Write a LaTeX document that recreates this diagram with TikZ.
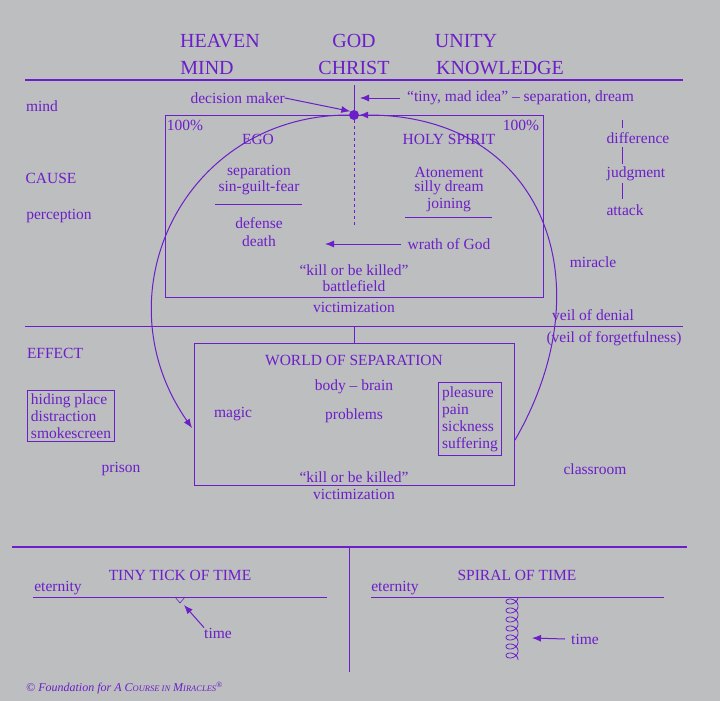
\documentclass[tikz,border=0pt]{standalone}
\usepackage{fontspec}
\setmainfont{Liberation Serif}
\usetikzlibrary{arrows.meta}
\definecolor{ink}{RGB}{108,30,200}
\definecolor{paper}{RGB}{188,190,192}
\begin{document}
\begin{tikzpicture}[x=1pt,y=1pt]
	\tikzset{txt/.style={text=ink, font=\fontsize{15.5}{17}\selectfont, inner sep=0pt},
		head/.style={text=ink, font=\fontsize{20}{22}\selectfont, inner sep=0pt},
		ln/.style={draw=ink, line width=1pt},
		arr/.style={ln, -{Latex[length=9pt,width=7pt]}}}
	\fill[paper] (0,0) rectangle (720,-701);
	\useasboundingbox (0,0) rectangle (720,-701);
	
	% headings
	\node[head] (h_1) at (220,-41) {HEAVEN};
	\node[head] (h_2) at (207,-68) {MIND};
	\node[head] (h_3) at (354,-41) {GOD};
	\node[head] (h_4) at (354,-68) {CHRIST};
	\node[head] (h_5) at (466,-41) {UNITY};
	\node[head] (h_6) at (500,-68) {KNOWLEDGE};
	\draw[ln, line width=2pt] (25,-80) -- (683,-80);
	
	% cause level
	\node[circle, fill=ink, inner sep=0pt, minimum size=10pt] (dot) at (354,-115) {};
	\coordinate (c_top) at (354,-85);
	\draw[ln] (c_top) -- (dot);
	\coordinate (c_dash) at (354,-228);
	\draw[ln, dashed] (dot) -- (c_dash);
	\draw[ln] (165,-115) rectangle (543,-297);
	\node[txt] (p_1) at (185,-125) {100\%};
	\node[txt] (p_2) at (521,-125) {100\%};
	\node[txt, anchor=east] (dm) at (285,-98) {decision maker};
	\draw[arr] (dm.east) -- (dot.north west);
	\node[txt, anchor=west] (idea) at (407,-98) {“tiny, mad idea” -- separation, dream};
	\coordinate (c_idea) at (400,-98);
	\draw[arr] (c_idea) -- (360,-98);
	\node[txt] (ego) at (258,-139) {EGO};
	\node[txt] (hs) at (449,-139) {HOLY SPIRIT};
	\node[txt] (e_1) at (259,-172) {separation};
	\node[txt] (e_2) at (259,-188) {sin-guilt-fear};
	\draw[ln] (215,-204) -- (302,-204);
	\node[txt] (e_3) at (259,-223) {defense};
	\node[txt] (e_4) at (259,-241) {death};
	\node[txt] (s_1) at (449,-172) {Atonement};
	\node[txt] (s_2) at (449,-188) {silly dream};
	\node[txt] (s_3) at (449,-205) {joining};
	\draw[ln] (405,-217) -- (492,-217);
	\node[txt] (wrath) at (449,-244) {wrath of God};
	\draw[arr] (wrath.west) ++(-6,0) -- (325,-244);
	\node[txt] (k_1) at (354,-270) {“kill or be killed”};
	\node[txt] (k_2) at (354,-286) {battlefield};
	\node[txt] (k_3) at (354,-307) {victimization};
	
	% left and right labels
	\node[txt] (l_1) at (42,-106) {mind};
	\node[txt] (l_2) at (51,-178) {CAUSE};
	\node[txt] (l_3) at (59,-216) {perception};
	\node[txt] (l_4) at (55,-353) {EFFECT};
	\node[txt] (r_1) at (638,-138) {difference};
	\node[txt] (r_2) at (636,-174) {judgment};
	\node[txt] (r_3) at (625,-210) {attack};
	\draw[ln] (622,-120) -- (622,-128);
	\draw[ln] (622,-147) -- (622,-164);
	\draw[ln] (622,-183) -- (622,-199);
	\node[txt] (mir) at (593,-262) {miracle};
	\node[txt] (veil) at (593,-315) {veil of denial};
	\node[txt] (forg) at (614,-339) {(veil of forgetfulness)};
	
	% effect level
	\draw[ln] (25,-326) -- (683,-326);
	\coordinate (c_mid) at (354,-326);
	\draw[ln] (c_mid) -- (354,-343);
	\draw[ln] (194,-343) rectangle (514,-485);
	\node[txt] (w_1) at (354,-360) {WORLD OF SEPARATION};
	\node[txt] (w_2) at (354,-387) {body -- brain};
	\node[txt] (w_3) at (354,-416) {problems};
	\node[txt] (magic) at (233,-414) {magic};
	\node[txt, draw=ink, line width=1pt, inner sep=4pt, align=left] (pp) at (470,-419)
		{pleasure\\pain\\sickness\\suffering};
	\node[txt, draw=ink, line width=1pt, inner sep=3pt, align=left] (hide) at (71,-416)
		{hiding place\\distraction\\smokescreen};
	\node[txt] (w_4) at (354,-477) {“kill or be killed”};
	\node[txt] (w_5) at (354,-494) {victimization};
	\node[txt] (prison) at (121,-469) {prison};
	\node[txt] (class) at (595,-469) {classroom};
	
	% the circle
	\coordinate (c_left) at (192,-428);
	\coordinate (c_right) at (515,-440);
	\draw[arr] (dot) to[out=180, in=125, looseness=1.2] (c_left);
	\draw[arr] (c_right) to[out=60, in=0, looseness=1.3] (dot.east);
	
	% time
	\draw[ln, line width=2pt] (12,-547) -- (687,-547);
	\coordinate (c_bot) at (349,-547);
	\draw[ln] (c_bot) -- (349,-672);
	\node[txt] (t_1) at (180,-575) {TINY TICK OF TIME};
	\node[txt] (et_1) at (58,-588) {eternity};
	\draw[ln] (33,-597) -- (327,-597);
	\draw[ln, line width=.6pt] (175,-597) -- (180,-603) -- (185,-597);
	\node[txt, anchor=west] (tm_1) at (204,-633) {time};
	\draw[arr] (tm_1.north west) -- (184,-605);
	\node[txt] (t_2) at (517,-575) {SPIRAL OF TIME};
	\node[txt] (et_2) at (395,-588) {eternity};
	\draw[ln] (371,-597) -- (664,-597);
	\draw[draw=ink, line width=.8pt] plot[domain=0:2520, samples=400]
		({512+6*cos(\x)}, {-(597+\x/360*9+4.5*sin(\x))});
	\node[txt, anchor=west] (tm_2) at (571,-639) {time};
	\draw[arr] (tm_2.west) ++(-6,0) -- (532,-638);
	
	\node[text=ink, anchor=west, inner sep=0pt, font=\fontsize{12}{13}\selectfont\itshape] (copy) at (26,-688)
		{© Foundation for A C{\fontsize{8.5}{9}\selectfont OURSE IN} M{\fontsize{8.5}{9}\selectfont IRACLES}\textsuperscript{®}};
\end{tikzpicture}
\end{document}
